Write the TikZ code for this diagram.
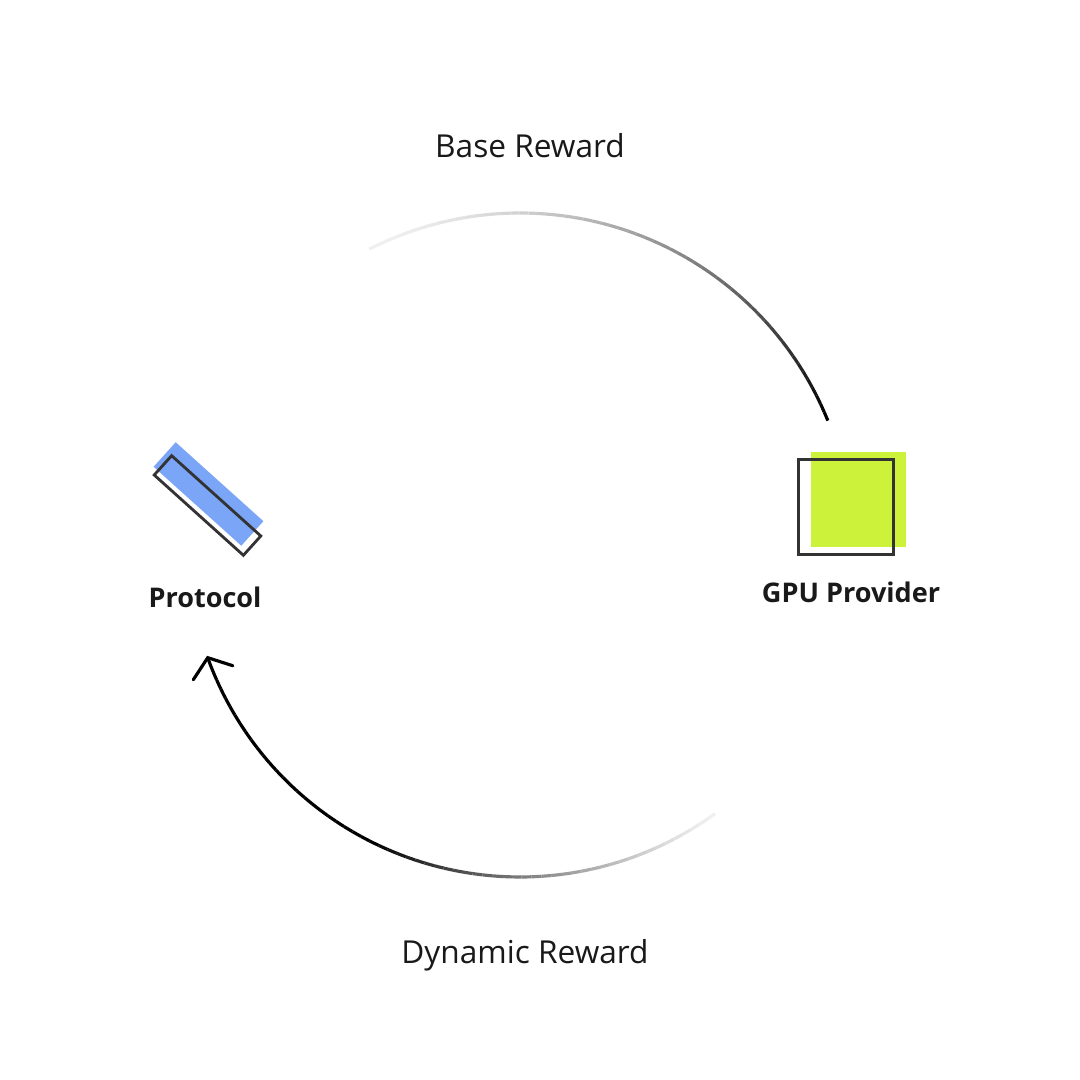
\documentclass[tikz,border=0pt]{standalone}
\usepackage{fontspec}
\setmainfont{Open Sans}
\usepackage{xcolor}
\usetikzlibrary{arrows.meta}
\definecolor{protblue}{HTML}{7BA6F7}
\definecolor{gpulime}{HTML}{CCF23A}

\begin{document}
\begin{tikzpicture}[>=stealth,
		lbl/.style={font=\fontsize{9}{11}\selectfont, text=black!90},
		partlbl/.style={font=\fontsize{7.7}{9}\selectfont\bfseries, text=black!90},
		iconbox/.style={draw=black!80, line width=0.8pt, inner sep=0pt}]
			% canvas
			\useasboundingbox[fill=white] (0,0) rectangle (10.8,10.8);
			% coordinates
			\coordinate (O) at (5.20,5.35);
			\def\r{3.32}
			% texts
			\node[lbl] (base) at (5.30,9.34) {Base Reward};
			\node[lbl] (dyn) at (5.25,1.25) {Dynamic Reward};
			\node[partlbl] (prot) at (2.05,4.83) {Protocol};
			\node[partlbl] (gpu) at (8.51,4.88) {GPU Provider};
			% protocol icon
			\node[fill=protblue, minimum width=1.18cm, minimum height=0.33cm, inner sep=0pt, rotate=-42] (protfill) at (2.085,5.86) {};
			\node[iconbox, minimum width=1.20cm, minimum height=0.26cm, rotate=-42] (protbox) at (2.075,5.745) {};
			% gpu icon
			\fill[gpulime] (8.11,5.33) rectangle (9.06,6.28);
			\node[iconbox, minimum size=0.95cm] (gpubox) at (8.46,5.73) {};
			% base reward arc, fading in
			\foreach \i in {0,...,59} {
				\pgfmathsetmacro\a{117-\i*95/60}
				\pgfmathsetmacro\b{117-(\i+1)*95/60}
				\pgfmathsetmacro\p{6+94*(\i/59)^1.6}
				\draw[black!\p, line width=0.9pt] (O) ++(\a:\r) arc (\a:\b:\r);
			}
			% dynamic reward arc, fading out
			\foreach \i in {0,...,59} {
				\pgfmathsetmacro\a{-54-\i*102/60}
				\pgfmathsetmacro\b{-54-(\i+1)*102/60}
				\pgfmathsetmacro\p{6+94*min(1,\i/36)^1.3}
				\draw[black!\p, line width=0.9pt] (O) ++(\a:\r) arc (\a:\b:\r);
			}
			\draw[-{Straight Barb[length=1.6mm,width=4.2mm,line cap=round]}, line width=0.9pt]
				(O) ++(-156:\r) arc (-156:-160.5:\r);
		\end{tikzpicture}
\end{document}
